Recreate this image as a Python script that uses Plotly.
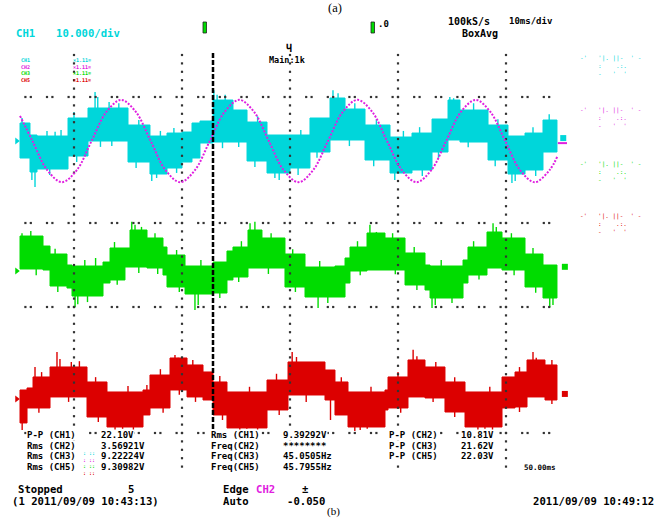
import plotly.graph_objects as go

# ---------------- data ----------------
# time in ms (10 ms/div), voltages in V relative to each channel's position
CH1_T = [0, 1.85, 3.15, 8.89, 12.59, 20.0, 24.07, 27.22, 30.0, 31.85, 33.33, 35.74, 39.44, 42.04, 45.74,
         50.0, 53.7, 57.41, 60.19, 63.89, 68.52, 72.59, 76.3, 79.26, 81.48, 86.67, 90.37, 93.52, 96.85]
CH1_HI = [4.29, 1.43, 1.19, 5.48, 7.86, 3.81, 1.19, 1.9, 2.14, 4.29, 4.76, 9.76, 7.38, 4.52, 1.43,
          1.43, 5.48, 10.24, 7.62, 3.81, 0.95, 1.9, 5.24, 9.76, 7.38, 3.81, 1.19, 1.9, 5.0]
CH1_LO = [-4.05, -7.38, -6.67, -3.57, 0.0, -5.0, -7.86, -6.43, -5.0, -4.05, -0.48, -0.24, -0.24, -4.76, -7.62,
          -6.43, -2.62, 0.24, 0.24, -4.52, -7.62, -6.9, -2.62, 0.24, -0.24, -4.52, -7.86, -6.9, -2.62]
CH1_SPIKE_T = [0.37, 2.2, 2.78, 13.9, 14.4, 24.4, 25.3, 35.9, 36.5, 47.2, 48.0, 57.96, 58.9, 69.4, 79.6, 80.3,
               91.1, 91.7, 5.0, 6.5, 7.6, 10.0, 16.5, 18.3, 22.0, 26.0, 28.5, 38.0, 44.0, 52.0, 62.0, 66.0,
               71.0, 74.0, 84.0, 88.5, 95.0, 98.0, 5.5, 10.5, 14.9, 17.0, 21.5, 29.0, 37.5, 40.5, 43.5, 51.5,
               55.0, 61.0, 65.5, 74.5, 77.5, 83.0, 88.0, 95.5]
CH1_SPIKE_V = [5.5, -9.3, -10.95, 11.7, 10.5, -9.5, -8.8, 12.1, 11.0, -8.8, -9.3, 12.1, 11.4, -9.3, 10.5, 10.2,
               -10.0, -9.5, 2.4, 2.2, 2.6, 6.9, 9.3, 9.0, 5.0, 2.4, 3.1, 11.0, 5.9, 2.6, 9.0, 5.2,
               2.4, 3.3, 9.0, 5.2, 3.3, 6.4, -8.1, -5.0, -1.4, -1.2, -6.4, -7.6, -1.7, -1.4, -6.2, -8.1,
               -4.0, -1.2, -6.0, -8.3, -4.0, -1.5, -6.0, -8.3]

CH2_T = [0, 2.31, 5.04, 7.78, 10.52, 13.25, 15.99, 18.72, 21.46, 24.2, 26.93, 29.67, 32.4, 35.14, 37.88,
         40.61, 43.35, 46.08, 48.82, 51.56, 54.29, 57.03, 59.76, 62.5, 65.24, 67.97, 70.71, 73.44, 76.18,
         78.92, 81.65, 84.39, 87.12, 89.86, 92.6, 95.33, 98.07, 99.6]
CH2_V = [3.0, 0, -3.46, -4.9, -3.46, 0, 3.46, 4.9, 3.46, 0, -3.46, -4.9, -3.46, 0, 3.46, 4.9, 3.46, 0,
         -3.46, -4.9, -3.46, 0, 3.46, 4.9, 3.46, 0, -3.46, -4.9, -3.46, 0, 3.46, 4.9, 3.46, 0, -3.46, -4.9,
         -3.46, -1.7]

CH3_T = [0, 4.26, 5.56, 8.7, 9.63, 15.37, 16.67, 19.44, 20.37, 23.52, 26.48, 27.22, 30.56, 35.74, 38.33,
         39.44, 42.22, 44.81, 49.07, 52.78, 58.33, 60.19, 61.11, 64.26, 67.59, 71.3, 75.0, 75.93, 82.04,
         82.96, 86.48, 89.26, 93.52, 96.85]
CH3_HI = [8.33, 5.95, 4.05, 1.43, 1.19, 2.14, 5.48, 5.48, 9.76, 7.86, 5.71, 3.81, 1.19, 2.14, 4.76,
          5.71, 9.76, 7.86, 4.05, 0.95, 1.19, 3.1, 5.71, 9.05, 7.86, 4.29, 1.43, 1.19, 2.62,
          5.71, 9.29, 7.86, 4.05, 1.43]
CH3_LO = [0.48, 0.24, -3.57, -4.05, -5.95, -2.86, -2.14, 0.95, 0.95, 0.71, -0.95, -3.81, -5.48, -5.24, -2.14,
          -1.43, 0.71, 0.71, -3.81, -6.19, -6.19, -2.86, 0.0, 0.24, 0.24, -3.33, -4.52, -6.43, -2.86,
          -0.95, 0.71, 0.24, -3.81, -6.43]
CH3_SPIKE_T = [0.37, 10.2, 10.7, 20.7, 21.3, 32.4, 33.0, 42.6, 43.5, 55.2, 64.8, 76.3, 76.9, 87.6, 88.2, 98.1,
               98.7, 2.0, 6.5, 12.0, 14.0, 17.5, 22.5, 25.0, 29.0, 33.5, 41.0, 46.5, 50.5, 55.5, 62.5, 66.0,
               69.0, 73.0, 78.0, 84.0, 91.0, 95.0, 3.0, 7.0, 12.5, 18.0, 22.0, 25.5, 29.5, 37.0, 40.5, 46.0,
               51.0, 57.0, 63.0, 69.5, 73.5, 80.0, 85.0, 91.5, 95.5]
CH3_SPIKE_V = [9.0, -8.6, -7.9, 11.7, 11.0, -9.3, -8.1, 11.4, 11.7, -8.8, 11.0, -8.8, -8.1, 11.4, 10.5, -8.6,
               -8.1, 9.5, 5.3, 2.6, 3.1, 6.9, 10.5, 9.0, 5.0, 2.6, 7.1, 9.0, 5.2, 2.4, 7.1, 9.3,
               9.0, 5.7, 2.6, 7.1, 9.0, 5.5, -1.0, -5.0, -7.4, -3.3, -0.5, -0.7, -5.0, -6.4, -2.6, -0.7,
               -5.0, -7.6, -1.0, -0.8, -4.5, -7.6, -2.0, -1.0, -5.2]

CH5_T = [0, 1.3, 2.41, 5.56, 12.41, 16.11, 22.78, 24.07, 27.78, 30.93, 33.89, 35.74, 38.33, 45.74,
         49.63, 56.48, 58.33, 60.74, 67.59, 68.15, 71.85, 75.0, 78.7, 82.41, 89.26, 91.67, 93.89, 97.22]
CH5_HI = [2.14, 2.62, 5.24, 7.62, 4.05, 1.67, 2.14, 5.71, 9.76, 8.1, 6.43, 4.05, 1.67, 4.52,
          8.81, 6.9, 4.05, 1.67, 2.14, 5.24, 9.29, 7.62, 4.05, 1.67, 5.24, 6.43, 9.29, 8.1]
CH5_LO = [-5.71, -2.14, -2.14, 0.48, -4.29, -6.67, -3.81, -2.14, 2.14, 0.48, -0.24, -3.81, -6.9, -2.62,
          0.95, -0.24, -3.81, -6.67, -2.62, -2.14, 0.48, 0.24, -3.1, -6.67, -2.14, -1.9, 0.48, -0.24]
CH5_SPIKE_T = [0.4, 2.78, 6.85, 7.4, 17.6, 19.0, 28.7, 29.3, 40.7, 42.0, 50.4, 51.2, 63.0, 64.3, 72.8, 73.5,
               84.8, 86.1, 95.0, 95.6, 4.0, 9.5, 11.0, 14.0, 20.0, 23.5, 26.0, 32.0, 37.0, 42.5, 47.5, 53.5,
               55.5, 59.5, 65.0, 70.0, 77.0, 80.5, 87.0, 92.5, 98.5, 3.5, 9.0, 14.5, 21.0, 26.5, 29.5, 32.5,
               37.5, 44.0, 48.0, 53.0, 57.5, 62.0, 70.5, 76.5, 80.5, 87.5, 92.5, 98.5]
CH5_SPIKE_V = [-7.4, 7.6, 11.2, 9.5, -7.4, -7.1, 10.5, 9.8, -7.4, -7.1, 11.2, 10.0, -7.4, -7.1, 11.7, 10.2,
               -7.4, -7.1, 11.2, 9.8, 6.4, 8.8, 9.0, 5.2, 3.1, 3.3, 7.1, 9.3, 5.5, 2.9, 6.0, 8.1,
               8.1, 5.2, 2.9, 6.4, 8.8, 5.2, 2.9, 7.6, 9.3, -3.3, -0.7, -5.5, -7.6, -3.3, 1.0, -0.7,
               -5.0, -7.6, -3.8, -0.7, -5.0, -7.6, -3.3, -0.7, -4.3, -7.6, -3.1, -1.2]

RECORD_END = 99.44
TRIGGER_T = 35.74

# measurement read-outs
COL1_LABELS = ["P-P (CH1)", "Rms (CH2)", "Rms (CH3)", "Rms (CH5)"]
COL1_VALUES = ["22.10V", "3.56921V", "9.22224V", "9.30982V"]
COL2_LABELS = ["Rms (CH1)", "Freq(CH2)", "Freq(CH3)", "Freq(CH5)"]
COL2_VALUES = ["9.39292V", "********", "45.0505Hz", "45.7955Hz"]
COL3_LABELS = ["P-P (CH2)", "P-P (CH3)", "P-P (CH5)"]
COL3_VALUES = ["10.81V", "21.62V", "22.03V"]
LEGEND_CH = ["CH1", "CH2", "CH3", "CH5"]

# ---------------- styling / layout ----------------
W, H = 669, 519
PX_MS, X0 = 5.4, 20.0          # pixels per ms, x pixel of t=0
PX_DIV, Y0 = 42.0, 223.0       # pixels per division, y pixel of y=0
CYAN, MAG, GREEN, RED = "#00d6da", "#e020e0", "#00dc00", "#dc0000"
CH_COLORS = [CYAN, MAG, GREEN, RED]
OFF1, OFF3, OFF5 = 1.952, -1.143, -4.190   # channel positions (div)
MONO = "DejaVu Sans Mono"

def band(T, HI, LO, end, off, scale):
    bounds = T[1:] + [end]
    xs, ys = [], []
    for t0, t1, h in zip(T, bounds, HI):
        xs += [t0, t1]; ys += [off + h / scale] * 2
    for t0, t1, l in reversed(list(zip(T, bounds, LO))):
        xs += [t1, t0]; ys += [off + l / scale] * 2
    xs.append(xs[0]); ys.append(ys[0])
    return xs, ys

def spikes(T, HI, LO, ST, SV, off, scale):
    xs, ys = [], []
    for t, v in zip(ST, SV):
        i = max(k for k in range(len(T)) if T[k] <= t)
        base = HI[i] if v > HI[i] else LO[i]
        xs += [t, t, None]; ys += [off + base / scale, off + v / scale, None]
    return xs, ys

fig = go.Figure()
for T, HI, LO, ST, SV, off, col in [
        (CH1_T, CH1_HI, CH1_LO, CH1_SPIKE_T, CH1_SPIKE_V, OFF1, CYAN),
        (CH3_T, CH3_HI, CH3_LO, CH3_SPIKE_T, CH3_SPIKE_V, OFF3, GREEN),
        (CH5_T, CH5_HI, CH5_LO, CH5_SPIKE_T, CH5_SPIKE_V, OFF5, RED)]:
    bx, by = band(T, HI, LO, RECORD_END, off, 10.0)
    fig.add_trace(go.Scatter(x=bx, y=by, mode="lines", fill="toself", fillcolor=col,
                             line=dict(color=col, width=1), hoverinfo="skip"))
    sx, sy = spikes(T, HI, LO, ST, SV, off, 10.0)
    fig.add_trace(go.Scatter(x=sx, y=sy, mode="lines", line=dict(color=col, width=1.4),
                             hoverinfo="skip"))

# channel markers (left arrows, right end blobs)
fig.add_trace(go.Scatter(x=[-0.6] * 3, y=[OFF1, OFF3, OFF5], mode="markers",
                         marker=dict(symbol="triangle-right", size=6, color=[CYAN, GREEN, RED])))
fig.add_trace(go.Scatter(x=[100.6, 100.9, 100.9], y=[OFF1 + 0.07, OFF3 + 0.1, OFF5 + 0.12], mode="markers",
                         marker=dict(symbol="square", size=6, color=[CYAN, GREEN, RED])))

# grid dots
gx, gy = [], []
for yr in [3, 0, -2, -5]:
    for k in range(25):
        gx += [4 * k + 1, 4 * k + 2]; gy += [yr, yr]
for xv in [10, 30, 50, 70, 90]:
    for j in range(50):
        gx.append(xv); gy.append(4.0 - 0.2 * j)
fig.add_trace(go.Scatter(x=gx, y=gy, mode="markers",
                         marker=dict(symbol="square", size=2.2, color="#333333", line=dict(width=0))))

# CH2 (magenta, 5 V/div)
fig.add_trace(go.Scatter(x=CH2_T, y=[OFF1 + v / 5.0 for v in CH2_V], mode="lines",
                         line=dict(color=MAG, width=2, dash="2px,1.5px", shape="spline", smoothing=1.0)))
fig.add_trace(go.Scatter(x=[99.6, 101.3], y=[OFF1 - 0.05, OFF1 - 0.05], mode="lines",
                         line=dict(color=MAG, width=2)))

# trigger / cursor dashed line
fig.add_shape(type="line", x0=TRIGGER_T, x1=TRIGGER_T, y0=4.05, y1=-4.98, xref="x", yref="y",
              line=dict(color="black", width=2.5, dash="5px,2px"), layer="above")

ann = []
def txt(x, y, s, color="black", size=10.6, family=MONO, anchor="left", bold=True, bg=None):
    d = dict(x=x / W, y=1 - y / H, xref="paper", yref="paper", text=("<b>%s</b>" % s) if bold else s,
             showarrow=False, xanchor=anchor, yanchor="middle", borderpad=0, align="left",
             font=dict(family=family, size=size, color=color))
    if bg:
        d["bgcolor"] = bg
    ann.append(d)

def colored_lines(items):
    return "<br>".join("<span style='color:%s'>%s</span>" % (c, s) for s, c in items)

# header
txt(335, 7.5, "(a)", size=12.5, family="Liberation Serif", anchor="center", bold=False)
txt(15, 33, "CH1", CYAN)
txt(55, 33, "10.000/div", CYAN)
txt(447, 21, "100kS/s", size=10)
txt(508, 21, "10ms/div", size=9)
txt(461, 33, "BoxAvg", size=10)
txt(377, 24, ".0", size=9)
txt(289, 49, "Ч", size=10, anchor="center")
txt(268, 60, "Main:1k", size=8.5)
txt(20, 69.5, colored_lines(list(zip(LEGEND_CH, CH_COLORS))), size=5)
txt(72, 69.5, colored_lines([("×1.11=", c) for c in CH_COLORS]), size=5)
for y1, col in [(57, CYAN), (110, MAG), (163, GREEN), (216, RED)]:
    txt(579, y1 + 8, colored_lines([("-'   '|. ||-  ' -", col), ("     :    .:.", col),
                                    ("     -   '  '", col)]), size=6, bold=False)

# measurements
MS = 9.0
ROWS = [435, 445.5, 456, 466.5]
for i, (l, v) in enumerate(zip(COL1_LABELS, COL1_VALUES)):
    txt(26, ROWS[i], l, size=MS, bg="white"); txt(100, ROWS[i], v, size=MS, bg="white")
for i, (l, v) in enumerate(zip(COL2_LABELS, COL2_VALUES)):
    txt(210, ROWS[i], l, size=MS, bg="white"); txt(282, ROWS[i], v, size=MS, bg="white")
for i, (l, v) in enumerate(zip(COL3_LABELS, COL3_VALUES)):
    txt(388, ROWS[i], l, size=MS, bg="white"); txt(460, ROWS[i], v, size=MS, bg="white")
txt(523, 467, "50.00ms", size=7.5)
txt(82, 463, colored_lines([(": ::", c) for c in CH_COLORS]), size=5)

txt(17, 489, "Stopped")
txt(127, 489, "5")
txt(222, 489, "Edge")
txt(255, 489, "CH2", MAG)
txt(301, 489, "±")
txt(11, 501, "(1 2011/09/09 10:43:13)")
txt(222, 501, "Auto")
txt(286, 501, "-0.050")
txt(532, 501, "2011/09/09 10:49:12")
txt(333, 511.5, "(b)", size=11, family="Liberation Serif", anchor="center", bold=False)

# green trigger-position bars
for xb in [205, 373]:
    fig.add_shape(type="rect", xref="paper", yref="paper", x0=(xb - 2) / W, x1=(xb + 1.5) / W,
                  y0=1 - 33 / H, y1=1 - 22 / H, fillcolor=GREEN, line=dict(color="#222", width=0.8))

fig.update_layout(
    width=W, height=H, margin=dict(l=0, r=0, t=0, b=0),
    paper_bgcolor="white", plot_bgcolor="white", showlegend=False,
    xaxis=dict(range=[-X0 / PX_MS, (W - X0) / PX_MS], visible=False, fixedrange=True),
    yaxis=dict(range=[(Y0 - H) / PX_DIV, Y0 / PX_DIV], visible=False, fixedrange=True),
    annotations=ann,
)
fig.write_html("out.html", config={"displayModeBar": False},
               post_script="document.body.style.margin='0';document.body.style.overflow='hidden';")
